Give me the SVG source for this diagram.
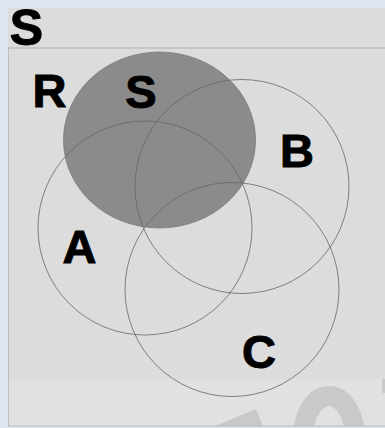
<svg xmlns="http://www.w3.org/2000/svg" width="385" height="428" viewBox="0 0 385 428">
  <style>
    .lbl { font-family: "Liberation Sans", Arial, sans-serif; font-weight: bold; fill: #000; stroke: #000; stroke-width: 1; text-anchor: middle; }
    .set { fill: none; stroke: #666; stroke-width: 0.8; }
    .wm { fill: #c9c9c9; }
  </style>
  <defs>
    <clipPath id="band"><rect x="8" y="379" width="377" height="47"/></clipPath>
  </defs>
  <rect x="0" y="0" width="385" height="428" fill="#dce5f0"/>
  <rect x="8" y="8" width="377" height="418" fill="#dcdcdc"/>
  <rect x="8" y="379" width="377" height="47" fill="#e1e1e1"/>
  <g clip-path="url(#band)">
    <polygon class="wm" points="215,426 256,409 263,426"/>
    <ellipse cx="329" cy="438" rx="26" ry="42" fill="none" stroke="#c9c9c9" stroke-width="20"/>
    <rect class="wm" x="382" y="379" width="3" height="14"/>
  </g>
  <line x1="8" y1="48" x2="385" y2="48" stroke="#b0b0b0" stroke-width="1.2"/>
  <line x1="8.5" y1="48" x2="8.5" y2="426" stroke="#b8bcc4" stroke-width="1"/>
  <line x1="8" y1="426" x2="385" y2="426" stroke="#b4bac6" stroke-width="1"/>
  <text class="lbl" x="26.5" y="45" font-size="50">S</text>
  <g id="S">
    <ellipse cx="159.5" cy="140" rx="96" ry="88" fill="#8b8b8b" stroke="#7a7a7a" stroke-width="0.8"/>
    <text class="lbl" x="141" y="108" font-size="47">S</text>
  </g>
  <g id="R">
    <text class="lbl" x="49.5" y="107" font-size="47">R</text>
  </g>
  <g id="A">
    <circle class="set" cx="145" cy="228" r="107"/>
    <text class="lbl" x="79.5" y="263" font-size="47">A</text>
  </g>
  <g id="B">
    <circle class="set" cx="242" cy="186.5" r="107"/>
    <text class="lbl" x="297" y="167" font-size="47">B</text>
  </g>
  <g id="C">
    <circle class="set" cx="232" cy="289.5" r="107"/>
    <text class="lbl" x="259" y="368" font-size="47">C</text>
  </g>
  <g id="connectors"></g>
</svg>
